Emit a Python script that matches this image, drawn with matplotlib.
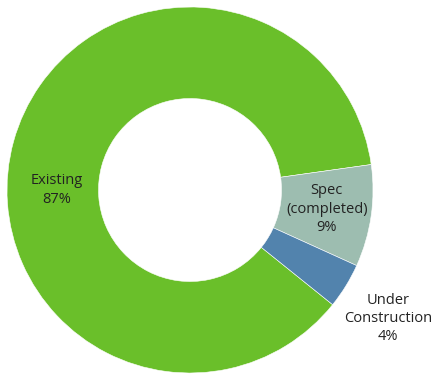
import numpy as np
import matplotlib
matplotlib.use("Agg")
import matplotlib.pyplot as plt

labels = ["Existing", "Spec\n(completed)", "Under\nConstruction"]
shares = [87, 9, 4]
colors = ["#6abf2a", "#9dbdb0", "#5283ad"]

# where each label sits: (radius, angle in degrees)
label_pos = [(0.73, 180.0), (0.755, -8.0), (1.29, -33.0)]

W, H = 433, 376
cx, cy, R = 190, 190, 183  # pixel centre and outer radius

fig = plt.figure(figsize=(W / 100, H / 100), dpi=100)
ax = fig.add_axes([0, 0, 1, 1])
ax.pie(shares, colors=colors, startangle=321.2, counterclock=False,
       radius=1.0, wedgeprops=dict(width=0.5, edgecolor="white", linewidth=0.4))
ax.set_aspect("auto")
ax.set_xlim(-cx / R, (W - cx) / R)
ax.set_ylim(-(H - cy) / R, cy / R)
ax.axis("off")

for lab, v, (r, a) in zip(labels, shares, label_pos):
    t = np.deg2rad(a)
    ax.text(r * np.cos(t), r * np.sin(t), f"{lab}\n{v}%", ha="center", va="center",
            fontsize=10.5, color="#222222", family="Open Sans", linespacing=1.3)

fig.savefig("out.png", dpi=100)
